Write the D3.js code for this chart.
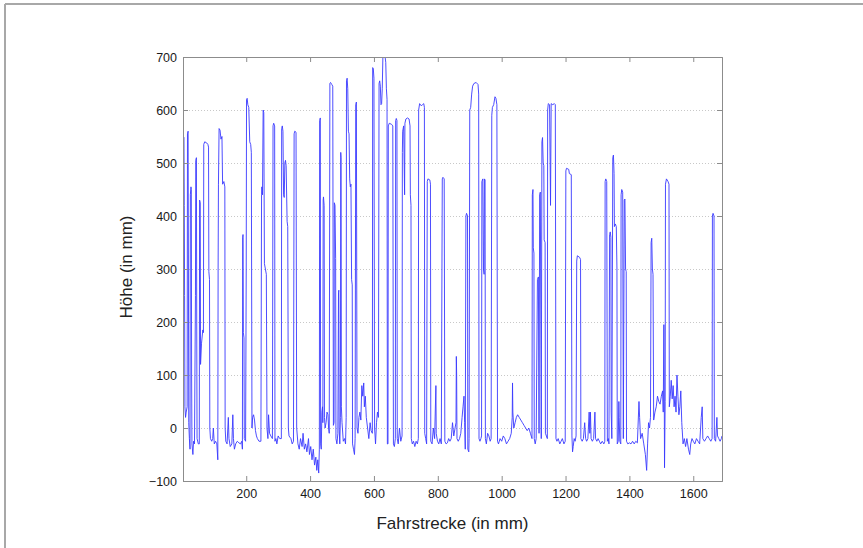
<!DOCTYPE html>
<html>
<head>
<meta charset="utf-8">
<script src="https://cdn.jsdelivr.net/npm/d3@7"></script>
<style>
  body { margin: 0; background: #fff; }
  text { font-family: "Liberation Sans", Arial, sans-serif; }
</style>
</head>
<body>
<script>
// Fahrstrecke (mm) / Höhe (mm)
var profile = [
  [2,540],[3,550],[5,548],[6,420],[7,250],[8,40],[10,20],[12,30],
  [15,40],[16,555],[18,560],[19,300],[20,10],[22,-20],[24,-40],
  [25,440],[27,455],[28,450],[29,100],[30,-30],[33,-50],[35,-25],[38,-30],
  [41,250],[42,505],[44,510],[45,200],[46,-20],[50,-30],
  [53,-30],[54,430],[56,425],[57,120],[60,160],[64,185],[66,180],[67,535],[70,540],[76,538],[80,535],[82,530],[83,295],[85,280],[86,0],
  [88,-20],[92,-25],[95,-20],[97,0],[100,-30],[104,-25],[108,-30],[111,-60],[112,300],[113,460],
  [115,565],[118,562],[121,545],[124,550],[126,460],[130,465],[133,455],[134,0],
  [136,-25],[140,-30],[144,20],[146,-20],[150,-35],[155,-30],[158,25],[160,-20],[163,-40],[167,-30],[172,-25],[177,-28],[182,-30],[186,-25],[188,-40],
  [189,360],[190,365],[191,180],[193,170],[194,-20],[198,-25],
  [200,300],[201,620],[203,622],[205,610],[208,605],[211,540],[214,535],[216,520],[218,0],
  [220,20],[223,25],[226,15],[229,-5],[232,-15],[235,-20],[240,-25],[246,-25],
  [248,440],[249,455],[251,440],[253,600],[255,595],[257,310],[260,300],[263,290],[265,0],
  [268,-20],[270,25],[273,-10],[277,-15],[282,-20],
  [284,570],[286,575],[289,570],[290,-25],[293,-20],[296,-30],[300,-15],[305,-20],[310,-20],
  [311,565],[313,570],[315,560],[317,440],[319,435],[321,500],[323,505],[325,495],[328,390],[330,380],[332,0],[334,-15],
  [340,-20],[344,-30],[348,-25],
  [350,555],[352,560],[356,558],[358,0],
  [362,-30],[366,-40],[370,-20],[375,-35],[378,-10],[382,-40],[386,-30],[390,-45],[395,-20],[398,-50],[402,-35],[406,-60],[410,-40],[414,-70],[418,-55],[421,-80],[424,-60],[427,-85],[429,-40],
  [430,580],[432,585],[433,-30],[435,-40],
  [437,30],[439,40],[440,10],[441,430],[442,436],[444,420],[445,20],[447,0],[450,10],[453,30],[456,25],[458,0],[460,-10],
  [462,650],[464,652],[468,648],[471,645],[473,5],[475,10],
  [476,425],[478,420],[480,320],[481,-20],[484,-30],[487,-10],[489,255],[490,260],[491,0],[493,-30],[495,20],
  [496,520],[497,510],[498,40],[500,10],[504,-25],[508,-20],[511,-30],[513,20],
  [514,655],[516,660],[518,640],[520,560],[522,555],[524,470],[526,455],[528,460],[530,280],[532,270],[533,-30],[536,-40],[539,-50],[541,-20],
  [543,610],[545,615],[547,0],[550,-10],[553,20],[556,30],[559,15],[562,80],[565,60],[568,85],[570,40],[573,60],[576,20],[580,0],[584,-20],[588,10],[591,-5],
  [595,-10],[596,680],[598,678],[600,660],[602,0],[605,-30],[608,10],[611,30],[614,20],
  [616,650],[618,655],[620,645],[622,610],[624,612],[626,640],[628,700],[631,710],[634,705],[637,690],[639,640],[641,620],[642,-30],
  [644,-30],[645,570],[648,575],[655,573],[659,570],[661,-30],[664,-35],[667,-20],
  [668,580],[670,584],[672,580],[673,-20],[676,-30],[680,0],[684,-25],[688,-15],
  [689,520],[690,560],[693,570],[696,440],[697,575],[700,583],[705,585],[710,583],[713,570],[714,440],[716,420],[717,-20],
  [720,-30],[724,-25],[728,-35],[732,-25],[736,-30],[739,-20],
  [740,600],[743,612],[748,608],[752,610],[756,612],[758,605],[759,-10],[762,-20],[765,-30],
  [767,465],[769,470],[775,468],[777,460],[778,-25],[782,-30],[786,0],[790,-20],[794,80],[795,-10],[799,-25],[803,-30],[807,-20],[811,-30],
  [814,470],[816,473],[820,470],[822,-25],[826,-30],[830,-28],[834,-20],[838,-25],[842,-20],[846,10],[850,-15],[854,0],
  [857,10],[858,135],[859,100],[860,-20],[864,-25],[868,-20],[872,-10],[876,20],[879,40],[882,60],[884,10],[886,-40],
  [888,400],[890,405],[893,400],[894,-40],[897,-45],[898,-20],
  [900,600],[903,605],[906,630],[909,645],[913,650],[920,652],[926,648],[928,630],[929,-20],[932,-25],[935,-20],[937,-15],
  [938,465],[941,470],[943,300],[945,290],[946,470],[948,468],[949,-20],[952,-30],[956,-10],[960,-15],[964,-25],[967,-20],
  [969,590],[971,605],[975,610],[979,625],[982,622],[985,610],[987,-25],[990,-30],[995,-20],[1000,-25],[1005,-15],[1010,-20],[1015,-30],[1020,-25],[1025,-20],[1030,-10],
  [1033,20],[1034,85],[1035,30],[1038,0],[1042,10],[1046,20],[1050,25],[1055,20],[1060,15],[1065,10],[1070,5],[1075,0],[1080,-5],[1085,0],[1090,-10],
  [1095,-20],[1096,440],[1098,450],[1099,340],[1101,330],[1102,-20],[1105,-30],[1108,-20],
  [1112,280],[1115,285],[1117,-10],[1119,440],[1121,445],[1122,300],[1124,-20],
  [1126,540],[1128,548],[1130,500],[1132,495],[1133,355],[1136,350],[1137,-10],
  [1143,-20],[1144,600],[1146,612],[1150,610],[1153,420],[1155,612],[1160,610],[1165,612],[1168,610],[1170,-20],
  [1173,-25],[1177,-20],[1182,-30],[1186,-25],[1190,-20],[1195,-30],[1199,-25],
  [1201,485],[1203,490],[1210,488],[1212,480],[1218,478],[1220,-15],[1222,-45],[1224,-35],[1227,-20],[1230,-25],[1233,-15],
  [1235,315],[1237,325],[1244,322],[1247,318],[1248,-20],[1252,-25],[1256,-20],[1260,10],[1263,-20],
  [1266,-25],[1270,-20],[1274,30],[1276,-10],[1278,30],[1280,-20],[1284,-25],[1288,-20],[1292,30],[1294,-20],[1298,-25],[1302,-20],[1306,-25],[1310,-30],[1315,-25],[1320,-30],
  [1323,-25],[1324,465],[1326,470],[1329,465],[1331,-25],[1334,-20],[1336,-30],
  [1338,365],[1340,370],[1342,360],[1343,30],[1345,-20],
  [1348,510],[1350,515],[1352,480],[1353,380],[1356,385],[1359,380],[1361,300],[1362,-30],[1365,-25],[1367,50],[1368,20],[1370,-25],[1373,-30],
  [1374,440],[1376,450],[1379,445],[1381,-20],[1384,430],[1386,432],[1388,300],[1390,295],[1391,-25],
  [1395,-30],[1400,-28],[1405,-30],[1410,-25],[1415,-30],[1420,-25],[1425,-28],[1430,50],[1432,20],[1435,-20],[1440,-10],[1445,-30],[1450,-50],[1454,-80],[1457,-30],[1460,10],[1463,0],[1466,20],
  [1468,350],[1470,358],[1472,300],[1474,290],[1476,15],[1480,30],[1484,40],[1488,60],[1492,50],[1496,45],[1500,60],[1504,70],[1506,30],[1508,195],[1509,100],[1510,-75],[1512,50],
  [1513,460],[1516,470],[1521,465],[1524,460],[1525,40],[1528,60],[1531,90],[1534,55],[1537,80],[1540,40],[1543,60],[1546,30],[1549,100],[1552,60],[1555,25],[1558,40],[1561,70],[1564,10],
  [1568,-30],[1572,-20],[1576,-35],[1580,-20],[1585,-40],[1589,-50],[1592,-30],[1596,-20],[1600,-25],[1605,-30],[1610,-20],[1615,-25],[1620,-30],[1625,20],[1628,40],[1630,-20],[1635,-25],[1640,-20],[1645,-15],[1650,-20],[1655,-25],
  [1659,-20],[1660,400],[1662,405],[1665,400],[1666,-20],[1670,-25],[1674,20],[1676,-15],[1680,-20],[1684,-25],[1688,-20],[1690,-15]
];

var xTicks = [200, 400, 600, 800, 1000, 1200, 1400, 1600];
var yTicks = [-100, 0, 100, 200, 300, 400, 500, 600, 700];
var xLabel = "Fahrstrecke (in mm)";
var yLabel = "Höhe (in mm)";

var W = 863, H = 548;
var margin = {left:183, right:141, top:57, bottom:67};
var width  = W - margin.left - margin.right;
var height = H - margin.top - margin.bottom;

var svg = d3.select("body").append("svg").attr("width", W).attr("height", H);

svg.append("rect").attr("width", W).attr("height", H).attr("fill", "#fff");

// page frame
svg.append("line").attr("x1",5).attr("y1",4).attr("x2",W).attr("y2",4).attr("stroke","#a8a8a8").attr("stroke-width",2);
svg.append("line").attr("x1",5).attr("y1",4).attr("x2",5).attr("y2",H).attr("stroke","#a8a8a8").attr("stroke-width",2);

var x = d3.scaleLinear().domain([2, 1690]).range([0, width]);
var y = d3.scaleLinear().domain([-100, 700]).range([height, 0]);

var chartGroup = svg.append("g").attr("transform", "translate("+margin.left+", "+margin.top+")");

chartGroup.append("clipPath").attr("id","clip").append("rect").attr("width", width).attr("height", height);

// dotted grid
chartGroup.append("g").selectAll("line").data(yTicks.slice(1, -1)).enter().append("line")
    .attr("x1", 0).attr("x2", width)
    .attr("y1", function(d){return Math.round(y(d)) + 0.5;})
    .attr("y2", function(d){return Math.round(y(d)) + 0.5;})
    .attr("stroke", "#c8c8c8").attr("stroke-dasharray", "1,2");

var line = d3.line().x(function(d){return x(d[0]);}).y(function(d){return y(d[1]);});

chartGroup.append("path").attr("d", line(profile)).attr("clip-path","url(#clip)")
    .attr("fill","none").attr("stroke","#3a3aff").attr("stroke-width",1).attr("stroke-opacity",0.9);

// axes, ticks inward on all four sides
var xAxis  = d3.axisBottom(x).tickValues(xTicks).tickSize(-5).tickPadding(8).tickFormat(d3.format("d"));
var yAxis  = d3.axisLeft(y).tickValues(yTicks).tickSize(-5).tickPadding(6).tickFormat(d3.format("d"));
var xAxisT = d3.axisTop(x).tickValues(xTicks).tickSize(-5).tickFormat("");
var yAxisR = d3.axisRight(y).tickValues(yTicks).tickSize(-5).tickFormat("");

chartGroup.append("g").attr("class","axis").attr("transform","translate(0,"+height+")").call(xAxis);
chartGroup.append("g").attr("class","axis").call(yAxis);
chartGroup.append("g").attr("class","axis").call(xAxisT);
chartGroup.append("g").attr("class","axis").attr("transform","translate("+width+",0)").call(yAxisR);

chartGroup.selectAll(".axis .domain").attr("stroke","#8c8c8c");
chartGroup.selectAll(".axis .tick line").attr("stroke","#8c8c8c");
chartGroup.selectAll(".axis text").attr("fill","#1a1a1a").style("font-size","12.5px").style("font-family","Liberation Sans, Arial, sans-serif");

svg.append("text").attr("x", margin.left + width/2).attr("y", 529).attr("text-anchor","middle")
    .style("font-size","17px").attr("fill","#222").text(xLabel);
svg.append("text").attr("transform","translate(132,"+(margin.top + height/2 - 2)+") rotate(-90)").attr("text-anchor","middle")
    .style("font-size","17px").attr("fill","#222").text(yLabel);
</script>
</body>
</html>
